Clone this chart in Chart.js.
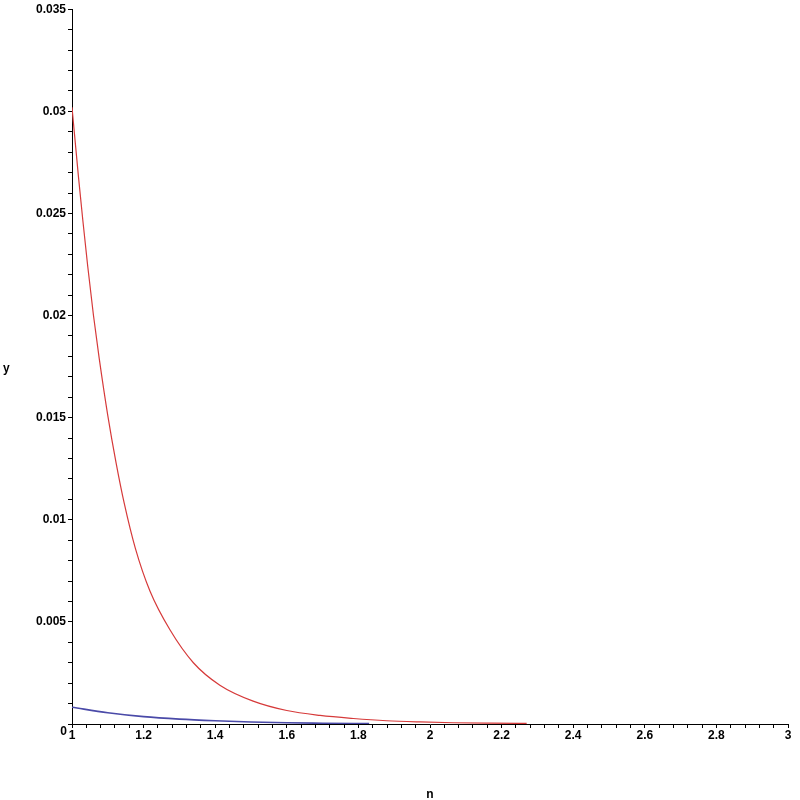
<!DOCTYPE html>
<html>
<head>
<meta charset="utf-8">
<script src="https://cdn.jsdelivr.net/npm/chart.js@4/dist/chart.umd.min.js"></script>
<style>
  html, body { margin: 0; padding: 0; background: #fff; }
  #wrap { width: 800px; height: 800px; position: relative; }
</style>
</head>
<body>
<div id="wrap"><canvas id="plot"></canvas></div>
<script>
// values
const redN  = [1.000, 1.018, 1.030, 1.044, 1.060, 1.076, 1.100, 1.123, 1.146, 1.177, 1.218, 1.274, 1.339, 1.413, 1.506, 1.600, 1.693, 1.786, 1.879, 1.972, 2.065, 2.170, 2.270];
const redY  = [0.0302, 0.0268, 0.0247, 0.0224, 0.0200, 0.0179, 0.0151, 0.0128, 0.0108, 0.0086, 0.0065, 0.0046, 0.0030, 0.0019, 0.00112, 0.00066, 0.00042, 0.00027, 0.00016, 0.0001, 0.00006, 0.00004, 0.00003];
const blueN = [1.00, 1.10, 1.20, 1.30, 1.40, 1.50, 1.60, 1.70, 1.83];
const blueY = [0.00082, 0.00055, 0.00036, 0.00024, 0.00016, 0.0001, 0.00006, 0.00004, 0.00002];

const xMin = 1, xMax = 3, xMinor = 0.04, xMajor = 0.2;
const yMin = 0, yMax = 0.035, yMinor = 0.001, yMajor = 0.005;
const xTitle = 'n';
const yTitle = 'y';
const originLabel = '0';

const toPts = (xs, ys) => xs.map((x, i) => ({ x: x, y: ys[i] }));
const isMajor = (v, step) => Math.abs(v / step - Math.round(v / step)) < 1e-6;

const tickFont = { family: '"Liberation Sans", Arial, sans-serif', size: 12, weight: 'bold' };

// "y" sits upright left of the axis and "0" sits a bit below the corner, so draw those by hand
const cornerTextPlugin = {
    id: 'cornerText',
    afterDraw(chart) {
        const ctx = chart.ctx;
        const area = chart.chartArea;
        ctx.save();
        ctx.font = 'bold 12px "Liberation Sans", Arial, sans-serif';
        ctx.fillStyle = '#000';
        ctx.textBaseline = 'middle';
        ctx.textAlign = 'left';
        ctx.fillText(yTitle, 3, (area.top + area.bottom) / 2 + 2);
        ctx.textAlign = 'right';
        ctx.fillText(originLabel, area.left - 5, area.bottom + 8);
        ctx.restore();
    }
};

new Chart(document.getElementById('plot'), {
    type: 'scatter',
    data: {
        datasets: [
            { data: toPts(redN, redY), borderColor: '#d63a3a', borderWidth: 1.2, showLine: true, pointRadius: 0, cubicInterpolationMode: 'monotone' },
            { data: toPts(blueN, blueY), borderColor: '#4a4aa8', borderWidth: 1.6, showLine: true, pointRadius: 0, cubicInterpolationMode: 'monotone' }
        ]
    },
    options: {
        responsive: true,
        maintainAspectRatio: false,
        animation: false,
        layout: { padding: { top: 8, right: 12, left: 0, bottom: 0 } },
        plugins: { legend: { display: false }, tooltip: { enabled: false } },
        scales: {
            x: {
                type: 'linear', min: xMin, max: xMax,
                afterFit: (s) => { s.height = 76; },
                border: { display: true, color: '#000', width: 1 },
                grid: { drawOnChartArea: false, drawTicks: true, tickLength: 4, tickColor: '#000' },
                ticks: {
                    stepSize: xMinor, autoSkip: false, maxRotation: 0, padding: 0,
                    color: '#000', font: tickFont,
                    callback: (v) => isMajor(v, xMajor) ? String(Math.round(v * 10) / 10) : ''
                },
                title: { display: true, text: xTitle, color: '#000', font: tickFont, padding: { top: 0, bottom: -2 } }
            },
            y: {
                type: 'linear', min: yMin, max: yMax,
                afterFit: (s) => { s.width = 72; },
                border: { display: true, color: '#000', width: 1 },
                grid: { drawOnChartArea: false, drawTicks: true, tickLength: 4, tickColor: '#000' },
                ticks: {
                    stepSize: yMinor, autoSkip: false, padding: 2,
                    color: '#000', font: tickFont,
                    callback: (v) => (v !== 0 && isMajor(v, yMajor)) ? String(parseFloat(v.toFixed(3))) : ''
                }
            }
        }
    },
    plugins: [cornerTextPlugin]
});
</script>
</body>
</html>
